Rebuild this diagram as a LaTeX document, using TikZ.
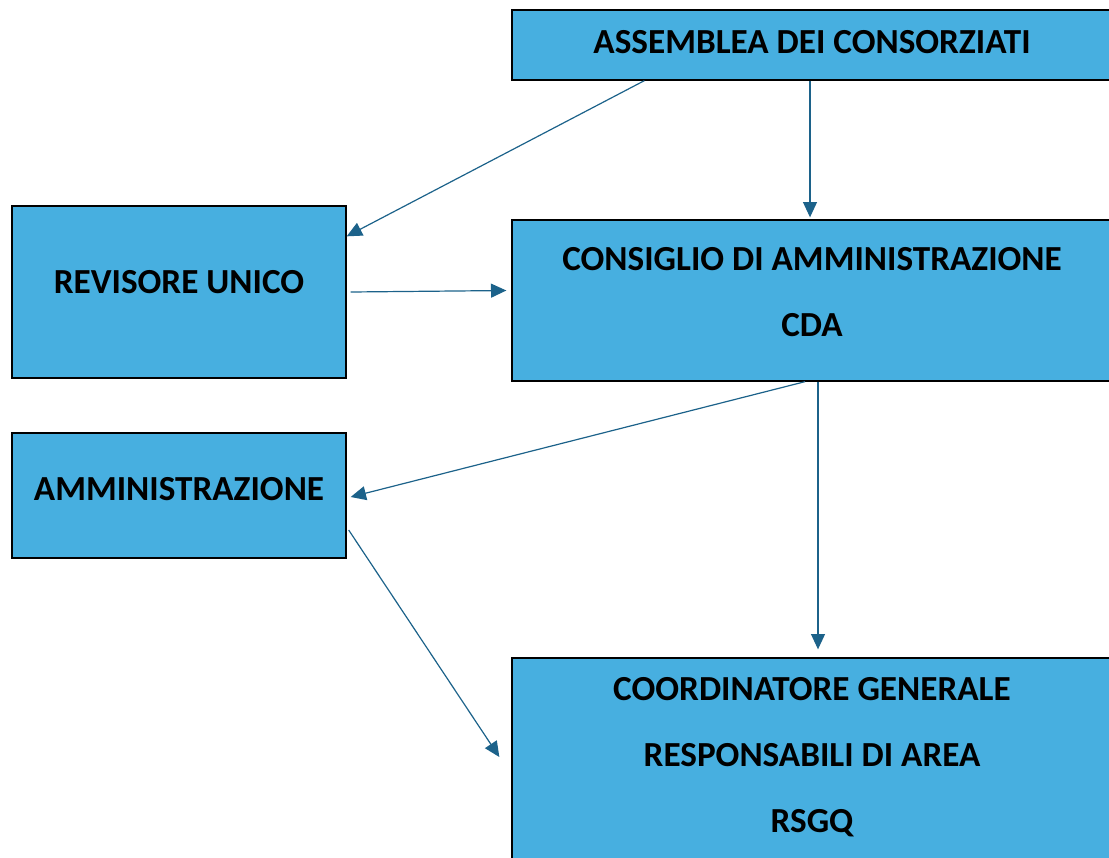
\documentclass[tikz,border=0pt]{standalone}
\usepackage{fontspec}
\setmainfont{Carlito}
\usetikzlibrary{calc,arrows.meta}
\definecolor{boxblue}{RGB}{71,175,224}
\definecolor{arrblue}{RGB}{28,98,138}
\tikzset{
	box/.style={draw=black, line width=1pt, fill=boxblue, inner sep=0pt,
		font=\fontsize{26.4}{49.5}\selectfont\bfseries, align=center},
	arr/.style={draw=arrblue, line width=0.9pt, -{Triangle[length=11.5pt,width=10.5pt]}}
}
\begin{document}
\begin{tikzpicture}[x=0.75pt,y=-0.75pt]
	\useasboundingbox (0,0) rectangle (1109,857);

	\node[box, minimum width=450pt, minimum height=52.5pt, text depth=4.5pt] (asm) at (812,45) {ASSEMBLEA DEI CONSORZIATI};
	\node[box, minimum width=250.5pt, minimum height=129pt, text depth=15pt] (rev) at (179,292) {REVISORE UNICO};
	\node[box, minimum width=450pt, minimum height=120.75pt, text depth=13.5pt] (cda) at (812,300.5) {CONSIGLIO DI AMMINISTRAZIONE\\CDA};
	\node[box, minimum width=250.5pt, minimum height=93.75pt, text depth=10.5pt] (amm) at (179,495.5) {AMMINISTRAZIONE};
	\node[box, minimum width=450pt, minimum height=153pt, text depth=8pt] (crd) at (812,760) {COORDINATORE GENERALE\\RESPONSABILI DI AREA\\RSGQ};

	% frecce
	\draw[arr] ($(asm.south west)+(133,0)$) -- ($(rev.north east)+(0,31)$);
	\draw[arr] ($(asm.south)+(-2,0)$) -- ($(cda.north)+(-2,-2)$);
	\draw[arr] ($(rev.east)+(4,0)$) -- ($(cda.west)+(-5,-10)$);
	\draw[arr] ($(cda.south)+(-7,0)$) -- ($(amm.east)+(4,1.5)$);
	\draw[arr] ($(cda.south)+(6,0)$) -- ($(crd.north)+(6,-8)$);
	\draw[arr] ($(amm.east)+(2,34.5)$) -- ($(crd.west)+(-12,-3)$);
\end{tikzpicture}
\end{document}
